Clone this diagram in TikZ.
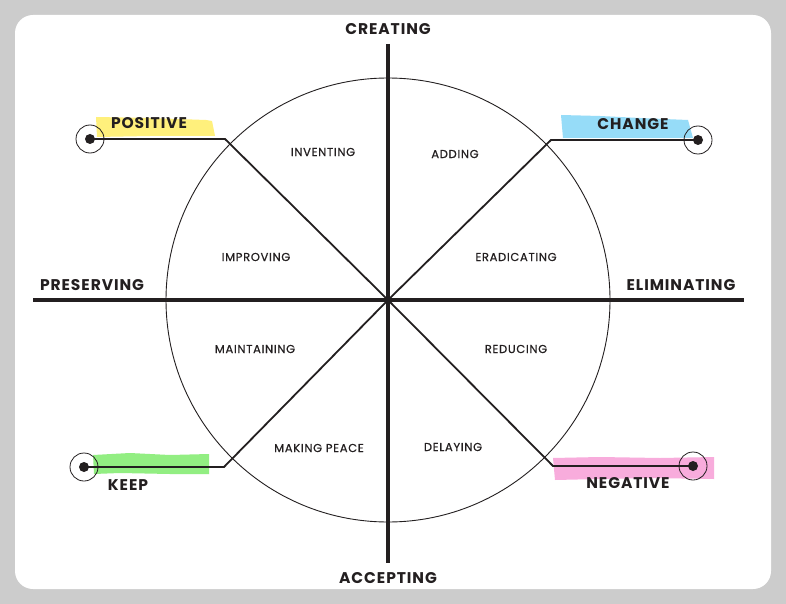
\documentclass[tikz,border=0pt]{standalone}
\usepackage{fontspec}
\setmainfont{Poppins}
\newfontfamily\bigfont[LetterSpace=6]{Poppins}
\newfontfamily\smallfont[LetterSpace=6, FakeBold=0.6]{Poppins}
\usetikzlibrary{positioning}

\definecolor{paper}{HTML}{CCCCCC}
\definecolor{ink}{HTML}{231F20}
\definecolor{hlyellow}{HTML}{FFF07C}
\definecolor{hlblue}{HTML}{96DCF8}
\definecolor{hlgreen}{HTML}{92EE82}
\definecolor{hlpink}{HTML}{F8ACDC}

\begin{document}
\begin{tikzpicture}[x=1pt, y=-1pt,
  axislabel/.style={font=\bigfont\bfseries\fontsize{15.5}{16}\selectfont, text=ink, inner sep=0pt},
  sectorlabel/.style={font=\smallfont\fontsize{11.5}{12}\selectfont, text=ink, inner sep=0pt},
  axis/.style={line width=4pt, ink},
  spoke/.style={line width=1.8pt, ink},
  marker/.style={circle, draw=ink, line width=0.8pt, minimum size=28pt, inner sep=0pt},
  dot/.style={circle, fill=ink, minimum size=10pt, inner sep=0pt}
]
  % background and card
  \fill[paper] (0,0) rectangle (786,604);
  \useasboundingbox (0,0) rectangle (786,604);
  \fill[white, rounded corners=18pt] (15,15) rectangle (771,589);

  % highlighter strokes
  \fill[hlyellow] (96,117) -- (150,118) -- (206,120) -- (212,121) -- (215,136) -- (150,136) -- (97,137) -- cycle;
  \fill[hlblue] (561,115) -- (600,116) -- (640,118) -- (688,120) -- (693,138) -- (620,138) -- (563,138) -- cycle;
  \fill[hlgreen] (93,455) -- (130,453) -- (170,455) -- (209,454) -- (209,474) -- (170,474) -- (120,473) -- (94,474) -- cycle;
  \fill[hlpink] (553,458) -- (600,457) -- (660,458) -- (714,457) -- (714,479) -- (650,478) -- (600,479) -- (555,480) -- cycle;

  % circle and axes
  \coordinate (o) at (388,300);
  \draw[ink, line width=0.9pt] (o) circle[radius=222];
  \coordinate (top) at (388,44);
  \coordinate (bot) at (388,563);
  \coordinate (lft) at (33,300);
  \coordinate (rgt) at (744,300);
  \draw[axis] (top) -- (bot);
  \draw[axis] (lft) -- (rgt);

  % markers and leaders
  \node[marker] (pos) at (90,139) {};
  \node[marker] (chg) at (698,140) {};
  \node[marker] (keep) at (84,467) {};
  \node[marker] (neg) at (693,466) {};
  \coordinate (posbend) at (225,139);
  \coordinate (chgbend) at (551,140);
  \coordinate (keepbend) at (224,467);
  \coordinate (negbend) at (553,466);
  \foreach \m in {pos,chg,keep,neg} {
    \draw[spoke] (\m.center) -- (\m bend) -- (o);
    \node[dot] at (\m) {};
  }

  % axis labels
  \node[axislabel] (creating) at (388,29) {CREATING};
  \node[axislabel] (accepting) at (388,578) {ACCEPTING};
  \node[axislabel] (preserving) at (92,285) {PRESERVING};
  \node[axislabel] (eliminating) at (681,285) {ELIMINATING};

  % pole labels
  \node[axislabel] (positive) at (149,123) {POSITIVE};
  \node[axislabel] (change) at (633,124) {CHANGE};
  \node[axislabel] (keeplabel) at (128,485) {KEEP};
  \node[axislabel] (negative) at (628,483) {NEGATIVE};

  % sector labels
  \node[sectorlabel] (inventing) at (323,152) {INVENTING};
  \node[sectorlabel] (adding) at (455,154) {ADDING};
  \node[sectorlabel] (improving) at (256,257) {IMPROVING};
  \node[sectorlabel] (eradicating) at (516,257) {ERADICATING};
  \node[sectorlabel] (maintaining) at (255,349) {MAINTAINING};
  \node[sectorlabel] (reducing) at (516,349) {REDUCING};
  \node[sectorlabel] (makingpeace) at (319,448) {MAKING PEACE};
  \node[sectorlabel] (delaying) at (453,447) {DELAYING};
\end{tikzpicture}
\end{document}
